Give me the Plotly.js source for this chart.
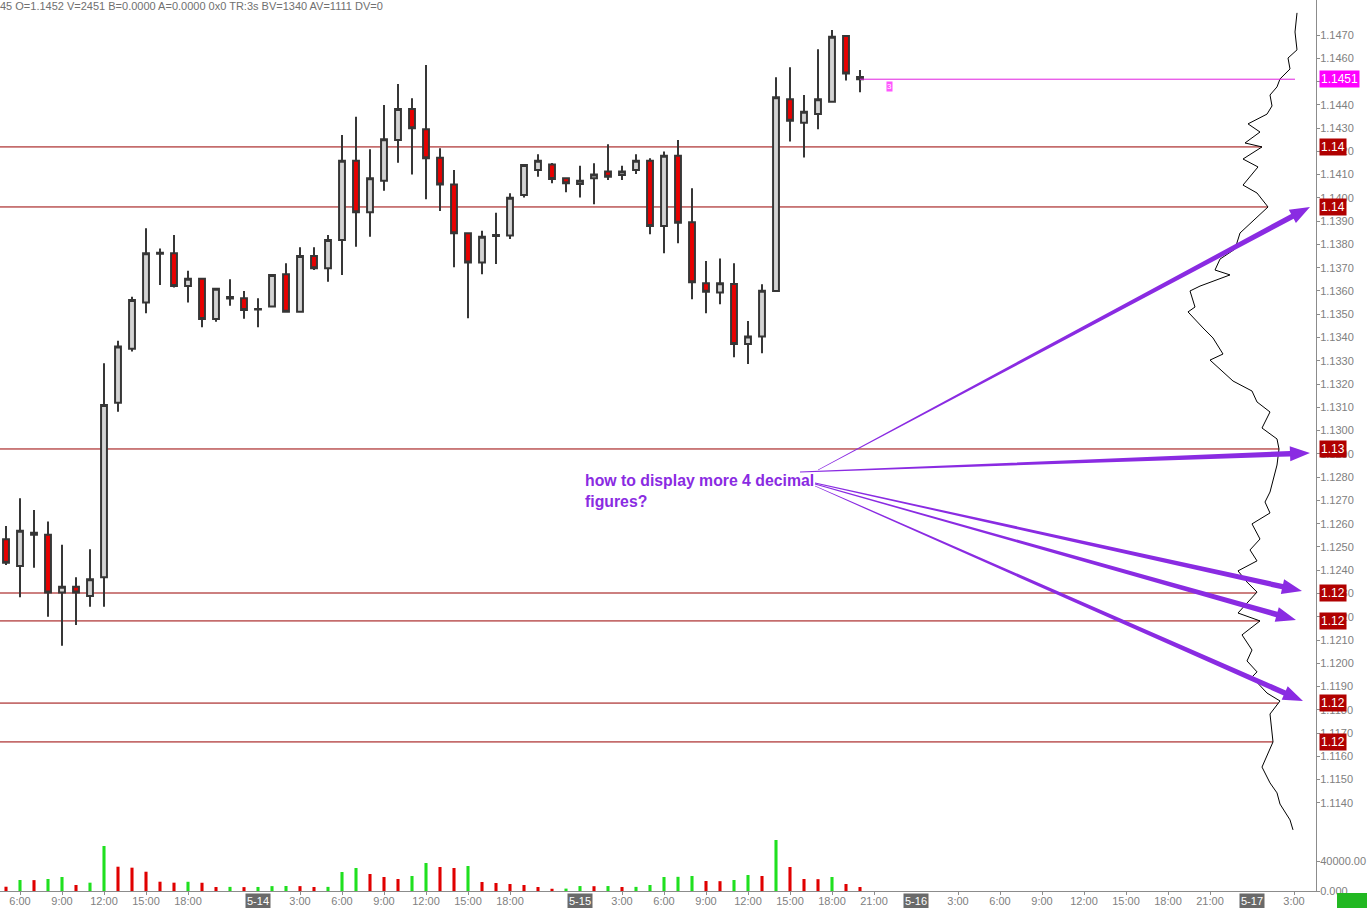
<!DOCTYPE html>
<html><head><meta charset="utf-8">
<script src="https://cdn.plot.ly/plotly-3.0.1.min.js"></script>
<style>html,body{margin:0;padding:0;background:#fff;overflow:hidden;} #chart{width:1367px;height:908px;}</style>
</head><body><div id="chart"></div>
<script>
// ---------- DATA (hourly bars, 5-13 05:00 .. 5-15 20:00) ----------
const openP = [1.12533,1.12418,1.12561,1.12552,1.12304,1.12329,1.12289,1.12370,1.13120,1.13352,
  1.13550,1.13760,1.13762,1.13621,1.13652,1.13480,1.13574,1.13569,1.13522,1.13533,
  1.13672,1.13511,1.13750,1.13698,1.13819,1.14160,1.13938,1.14074,1.14249,1.14382,
  1.14295,1.14173,1.14058,1.13848,1.13722,1.13836,1.13838,1.14012,1.14120,1.14144,
  1.14084,1.14060,1.14084,1.14113,1.14098,1.14120,1.14160,1.13879,1.14181,1.13895,
  1.13633,1.13593,1.13630,1.13372,1.13404,1.13600,1.14424,1.14323,1.14361,1.14413,
  1.14696,1.14520];
const highP = [1.12590,1.12709,1.12659,1.12609,1.12509,1.12370,1.12490,1.13289,1.13386,1.13575,
  1.13869,1.13783,1.13841,1.13687,1.13655,1.13612,1.13650,1.13600,1.13569,1.13672,
  1.13719,1.13788,1.13788,1.13841,1.14270,1.14349,1.14209,1.14399,1.14489,1.14428,
  1.14571,1.14213,1.14120,1.13852,1.13859,1.13936,1.14020,1.14145,1.14187,1.14150,
  1.14086,1.14138,1.14149,1.14230,1.14138,1.14187,1.14170,1.14199,1.14249,1.14041,
  1.13729,1.13740,1.13719,1.13471,1.13629,1.14518,1.14561,1.14442,1.14639,1.14721,
  1.14700,1.14550];
const lowP = [1.12422,1.12284,1.12411,1.12200,1.12075,1.12165,1.12243,1.12243,1.13081,1.13340,
  1.13504,1.13626,1.13615,1.13550,1.13444,1.13468,1.13536,1.13481,1.13444,1.13530,
  1.13509,1.13508,1.13690,1.13640,1.13669,1.13790,1.13833,1.14031,1.14151,1.14101,
  1.13994,1.13944,1.13702,1.13483,1.13672,1.13716,1.13823,1.14002,1.14091,1.14063,
  1.14024,1.14002,1.13973,1.14077,1.14077,1.14103,1.13844,1.13762,1.13805,1.13564,
  1.13504,1.13543,1.13315,1.13286,1.13332,1.13598,1.14242,1.14174,1.14295,1.14410,
  1.14504,1.14454];
const closeP = [1.12432,1.12570,1.12552,1.12304,1.12329,1.12304,1.12361,1.13110,1.13361,1.13561,
  1.13762,1.13764,1.13621,1.13652,1.13480,1.13610,1.13568,1.13518,1.13520,1.13669,
  1.13511,1.13750,1.13698,1.13819,1.14160,1.13938,1.14084,1.14252,1.14382,1.14299,
  1.14170,1.14058,1.13848,1.13722,1.13833,1.13840,1.14001,1.14141,1.14160,1.14081,
  1.14063,1.14074,1.14101,1.14091,1.14113,1.14160,1.13879,1.14181,1.13893,1.13637,
  1.13597,1.13633,1.13372,1.13404,1.13601,1.14432,1.14332,1.14370,1.14424,1.14693,
  1.14535,1.14510];
const volume = [5700,14700,14500,16000,18700,8000,11100,60000,32400,31100,
  25700,12400,11100,12300,11000,5300,5500,5200,5400,6500,
  6700,6500,5300,5500,25300,30700,22700,18700,16000,20000,
  37300,32000,30700,33300,12000,10700,9300,8000,5300,3000,
  3200,6600,6400,6600,5300,5500,8000,18700,18900,20000,
  13300,13100,14700,21300,20000,68000,32000,16000,15800,18700,
  9300,5300];

// volume-at-price profile (right side)
const profilePrice = [1.14795,1.14713,1.14636,1.14601,1.14554,1.14511,1.14477,1.14442,1.14395,1.14360,
  1.14318,1.14283,1.14236,1.14219,1.14167,1.14133,1.14055,1.14021,1.13961,1.13918,
  1.13849,1.13780,1.13737,1.13690,1.13669,1.13621,1.13600,1.13531,1.13510,1.13441,
  1.13398,1.13329,1.13303,1.13213,1.13170,1.13123,1.13080,1.13011,1.12964,1.12921,
  1.12852,1.12736,1.12693,1.12646,1.12599,1.12534,1.12487,1.12440,1.12397,1.12349,
  1.12306,1.12216,1.12182,1.12122,1.12057,1.12010,1.11963,1.11941,1.11872,1.11838,
  1.11782,1.11662,1.11554,1.11486,1.11443,1.11395,1.11327,1.11284];
const profileVol = [1900,2100,1900,2800,2600,3600,3900,4600,4400,4900,
  6800,5600,7100,5400,7300,5800,7300,5900,4800,5900,
  7600,8100,9600,10100,8600,11600,12600,12100,12800,11300,
  10300,9300,10600,8300,6400,5900,4600,5400,3900,3700,
  3900,4600,5100,4600,6400,5600,6600,5900,7800,6900,
  5900,7800,5600,7400,6400,6900,5900,6400,4900,3600,
  4600,4300,5400,4600,3900,3600,2600,2300];

// horizontal price levels
const levelPrices = [1.14219,1.13961,1.12921,1.12302,1.12182,1.11829,1.11662];

// axis ticks
const priceTicks = [1.1140,1.1150,1.1160,1.1170,1.1180,1.1190,1.1200,1.1210,1.1220,1.1230,1.1240,
  1.1250,1.1260,1.1270,1.1280,1.1290,1.1300,1.1310,1.1320,1.1330,1.1340,1.1350,1.1360,1.1370,
  1.1380,1.1390,1.1400,1.1410,1.1420,1.1430,1.1440,1.1450,1.1460,1.1470];
const timeTickPos  = [1,4,7,10,13,21,24,27,30,33,36,44,47,50,53,56,59,62,68,71,74,77,80,83,86,92];
const timeTickText = ['6:00','9:00','12:00','15:00','18:00','3:00','6:00','9:00','12:00','15:00','18:00',
  '3:00','6:00','9:00','12:00','15:00','18:00','21:00','3:00','6:00','9:00','12:00','15:00','18:00','21:00','3:00'];
const dateTickPos  = [18,41,65,89];
const dateTickText = ['5-14','5-15','5-16','5-17'];
const volTicks = [0,40000];
const volTickText = ['0.000','40000.00'];

const headerText = '45 O=1.1452 V=2451 B=0.0000 A=0.0000 0x0 TR:3s BV=1340 AV=1111 DV=0';
const questionText = 'how to display more 4 decimal<br>figures?';

// ---------- LAYOUT GEOMETRY ----------
const W = 1367, H = 908, ML = 0, MR = 51, MT = 0, MB = 17;
const PW = W - ML - MR, PH = H - MT - MB;
const priceTop = 1.148504, priceBot = 1.110214;
const xMin = -0.4286, xMax = 93.571;
const profMax = 131600;
const FONT = 'Liberation Sans, Arial, sans-serif';
const PURPLE = '#8a2be2';

const idx = openP.map((_, i) => i);
const volColors = volume.map((v, i) => (i > 0 && v > volume[i - 1]) ? '#1fe01f' : '#e00000');

function profileAt(p) {
  for (let i = 0; i < profilePrice.length - 1; i++) {
    const a = profilePrice[i], b = profilePrice[i + 1];
    if (p <= a && p >= b) {
      const t = (a - p) / (a - b);
      return profileVol[i] + t * (profileVol[i + 1] - profileVol[i]);
    }
  }
  return profileVol[profileVol.length - 1];
}
const priceToPy = p => (priceTop - p) / (priceTop - priceBot) * PH;
const toPaperX = px => px / PW;
const toPaperY = py => 1 - py / PH;

function arrowPath(x0, y0, x1, y1, w0, w1, hl, hw) {
  const dx = x1 - x0, dy = y1 - y0, L = Math.hypot(dx, dy);
  const ux = dx / L, uy = dy / L, nx = -uy, ny = ux;
  const bx = x1 - ux * hl, by = y1 - uy * hl;
  const pts = [
    [x0 + nx * w0 / 2, y0 + ny * w0 / 2],
    [bx + nx * w1 / 2, by + ny * w1 / 2],
    [bx + nx * hw / 2, by + ny * hw / 2],
    [x1, y1],
    [bx - nx * hw / 2, by - ny * hw / 2],
    [bx - nx * w1 / 2, by - ny * w1 / 2],
    [x0 - nx * w0 / 2, y0 - ny * w0 / 2]
  ];
  return 'M' + pts.map(q => toPaperX(q[0]).toFixed(5) + ',' + toPaperY(q[1]).toFixed(5)).join(' L') + ' Z';
}

// ---------- TRACES ----------
const candle = {
  type: 'candlestick', x: idx, open: openP, high: highP, low: lowP, close: closeP,
  xaxis: 'x', yaxis: 'y',
  increasing: { line: { color: '#363636', width: 2 }, fillcolor: '#d4d4d4' },
  decreasing: { line: { color: '#363636', width: 2 }, fillcolor: '#e80000' },
  whiskerwidth: 0, hoverinfo: 'skip', showlegend: false
};
const volBars = {
  type: 'bar', x: idx, y: volume, xaxis: 'x', yaxis: 'y2', width: 0.22,
  marker: { color: volColors, line: { width: 0 } }, hoverinfo: 'skip', showlegend: false
};
const profile = {
  type: 'scatter', mode: 'lines', x: profileVol, y: profilePrice, xaxis: 'x2', yaxis: 'y',
  line: { color: '#000', width: 1 }, hoverinfo: 'skip', showlegend: false
};

// ---------- SHAPES & ANNOTATIONS ----------
const shapes = [];
const annotations = [];
levelPrices.forEach(p => {
  shapes.push({ type: 'line', xref: 'x2', yref: 'y', x0: profMax, x1: profileAt(p), y0: p, y1: p,
    line: { color: '#990000', width: 1 }, layer: 'below' });
  annotations.push({ xref: 'paper', yref: 'y', x: 1, y: p, xanchor: 'left', yanchor: 'middle', xshift: 3,
    text: p.toFixed(2), showarrow: false, bgcolor: '#b00000', borderpad: 1,
    font: { family: FONT, size: 12, color: '#fff' } });
});
const lastClose = closeP[closeP.length - 1];
shapes.push({ type: 'line', xref: 'x', yref: 'y', x0: idx[idx.length - 1], x1: 92.07, y0: lastClose, y1: lastClose,
  line: { color: '#e020e0', width: 1 } });
annotations.push({ xref: 'paper', yref: 'y', x: 1, y: lastClose, xanchor: 'left', yanchor: 'middle', xshift: 3,
  text: lastClose.toFixed(4), showarrow: false, bgcolor: '#ff00ff', borderpad: 1,
  font: { family: FONT, size: 12, color: '#fff' } });
annotations.push({ xref: 'x', yref: 'y', x: 63.1, y: lastClose, yshift: -7, text: '3', showarrow: false,
  bgcolor: '#ff55ff', borderpad: 0, font: { family: FONT, size: 8, color: '#fff' } });

// arrows from the question text to the level labels
const arrowSpecs = [
  { from: [818, 470], level: levelPrices[1] },
  { from: [800, 472], level: levelPrices[2] },
  { from: [815, 483], level: levelPrices[3] },
  { from: [815, 484], level: levelPrices[4] },
  { from: [815, 486], level: levelPrices[5] }
];
const arrowTipX = [1310, 1310, 1302, 1296, 1303];
arrowSpecs.forEach((a, k) => {
  const ty = priceToPy(a.level) + [0, 4, -2, -1, -2][k];
  shapes.push({ type: 'path', xref: 'paper', yref: 'paper',
    path: arrowPath(a.from[0], a.from[1], arrowTipX[k], ty, 0.8, 5.5, 20, 15),
    fillcolor: PURPLE, line: { width: 0 } });
});
annotations.push({ xref: 'paper', yref: 'paper', x: toPaperX(583), y: toPaperY(470), xanchor: 'left', yanchor: 'top',
  align: 'left', text: '<b>' + questionText.replace('<br>', '</b><br><b>') + '</b>', showarrow: false,
  font: { family: FONT, size: 15.8, color: PURPLE } });

// header
annotations.push({ xref: 'paper', yref: 'paper', x: 0, y: 1, xanchor: 'left', yanchor: 'top', yshift: 2, xshift: -2,
  text: headerText, showarrow: false, font: { family: FONT, size: 11, color: '#707070' } });

// date boxes on time axis
dateTickPos.forEach((p, k) => {
  annotations.push({ xref: 'x', yref: 'paper', x: p, y: 0, yanchor: 'top', yshift: -2, text: dateTickText[k],
    showarrow: false, bgcolor: '#6a6a6a', borderpad: 1, font: { family: FONT, size: 11, color: '#fff' } });
});
// green status box bottom right
shapes.push({ type: 'rect', xref: 'paper', yref: 'paper', x0: 1337 / PW, x1: 1367 / PW, y0: toPaperY(908), y1: toPaperY(893),
  fillcolor: '#22b822', line: { width: 0 } });

const layout = {
  width: W, height: H,
  margin: { l: ML, r: MR, t: MT, b: MB, pad: 0 },
  paper_bgcolor: '#fff', plot_bgcolor: '#fff',
  showlegend: false, hovermode: false, dragmode: false,
  boxgap: 0.4,
  font: { family: FONT, size: 11, color: '#808080' },
  xaxis: {
    range: [xMin, xMax], showgrid: false, zeroline: false, showline: true, linecolor: '#8c8c8c', linewidth: 1,
    tickmode: 'array', tickvals: timeTickPos, ticktext: timeTickText, ticks: 'outside', ticklen: 3,
    ticklabelstandoff: -3,
    tickcolor: '#8c8c8c', tickfont: { family: FONT, size: 11, color: '#808080' },
    rangeslider: { visible: false }, fixedrange: true, anchor: 'y'
  },
  xaxis2: { overlaying: 'x', range: [profMax, 0], visible: false, anchor: 'y', fixedrange: true },
  yaxis: {
    range: [priceBot, priceTop], side: 'right', showgrid: false, zeroline: false, showline: true,
    linecolor: '#8c8c8c', linewidth: 1, tickmode: 'array', tickvals: priceTicks, tickformat: '.4f',
    ticks: 'outside', ticklen: 3, tickcolor: '#8c8c8c', ticklabelstandoff: -2,
    tickfont: { family: FONT, size: 11, color: '#808080' }, fixedrange: true, anchor: 'x'
  },
  yaxis2: {
    domain: [0, 61 / PH], range: [0, 61 * 1333.3], side: 'right', anchor: 'x', showgrid: false, zeroline: false,
    showline: false, tickmode: 'array', tickvals: volTicks, ticktext: volTickText, ticks: 'outside', ticklen: 3,
    ticklabelstandoff: -2,
    tickcolor: '#8c8c8c', tickfont: { family: FONT, size: 11, color: '#808080' }, fixedrange: true
  },
  shapes: shapes, annotations: annotations
};

Plotly.newPlot('chart', [volBars, profile, candle], layout, { staticPlot: true, displayModeBar: false });
</script>
</body></html>
